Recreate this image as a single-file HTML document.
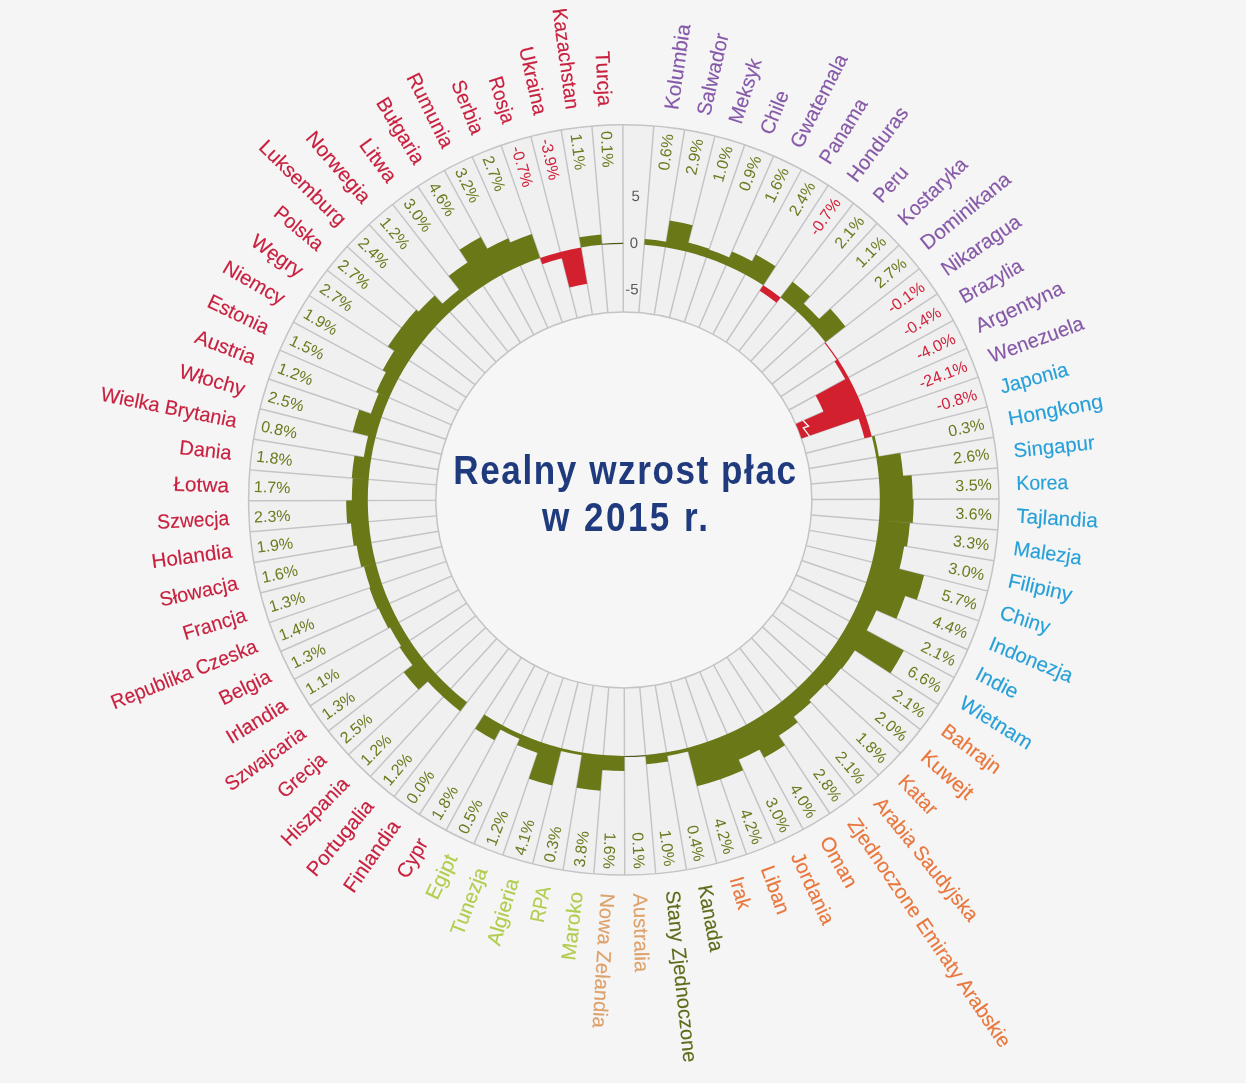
<!DOCTYPE html>
<html lang="pl">
<head>
<meta charset="utf-8">
<title>Realny wzrost płac w 2015 r.</title>
<style>html,body{margin:0;padding:0;background:#f5f5f5}svg{display:block}</style>
</head>
<body>
<svg width="1246" height="1083" viewBox="0 0 1246 1083" font-family="'Liberation Sans', sans-serif">
<rect width="1246" height="1083" fill="#f5f5f5"/>
<g transform="rotate(-0.145 623.8 499.9)">
<circle cx="623.8" cy="499.9" r="375.2" fill="#f0f0f0" stroke="#c2c4c5" stroke-width="1.5"/>
<circle cx="623.8" cy="499.9" r="188" fill="#f6f6f6" stroke="#c2c4c5" stroke-width="1.5"/>
<path d="M623.8 311.9L623.8 124.7M639.32 312.54L654.78 125.98M654.74 314.46L685.56 129.82M669.95 317.65L715.91 136.18M684.84 322.09L745.63 145.03M699.32 327.73L774.52 156.3M713.28 334.56L802.38 169.92M726.63 342.51L829.01 185.8M739.27 351.54L854.25 203.81M751.13 361.58L877.92 223.86M762.12 372.57L899.84 245.78M772.16 384.43L919.89 269.45M781.19 397.07L937.9 294.69M789.14 410.42L953.78 321.32M795.97 424.38L967.4 349.18M801.61 438.86L978.67 378.07M806.05 453.75L987.52 407.79M809.24 468.96L993.88 438.14M811.16 484.38L997.72 468.92M811.8 499.9L999 499.9M811.16 515.42L997.72 530.88M809.24 530.84L993.88 561.66M806.05 546.05L987.52 592.01M801.61 560.94L978.67 621.73M795.97 575.42L967.4 650.62M789.14 589.38L953.78 678.48M781.19 602.73L937.9 705.11M772.16 615.37L919.89 730.35M762.12 627.23L899.84 754.02M751.13 638.22L877.92 775.94M739.27 648.26L854.25 795.99M726.63 657.29L829.01 814M713.28 665.24L802.38 829.88M699.32 672.07L774.52 843.5M684.84 677.71L745.63 854.77M669.95 682.15L715.91 863.62M654.74 685.34L685.56 869.98M639.32 687.26L654.78 873.82M623.8 687.9L623.8 875.1M608.28 687.26L592.82 873.82M592.86 685.34L562.04 869.98M577.65 682.15L531.69 863.62M562.76 677.71L501.97 854.77M548.28 672.07L473.08 843.5M534.32 665.24L445.22 829.88M520.97 657.29L418.59 814M508.33 648.26L393.35 795.99M496.47 638.22L369.68 775.94M485.48 627.23L347.76 754.02M475.44 615.37L327.71 730.35M466.41 602.73L309.7 705.11M458.46 589.38L293.82 678.48M451.63 575.42L280.2 650.62M445.99 560.94L268.93 621.73M441.55 546.05L260.08 592.01M438.36 530.84L253.72 561.66M436.44 515.42L249.88 530.88M435.8 499.9L248.6 499.9M436.44 484.38L249.88 468.92M438.36 468.96L253.72 438.14M441.55 453.75L260.08 407.79M445.99 438.86L268.93 378.07M451.63 424.38L280.2 349.18M458.46 410.42L293.82 321.32M466.41 397.07L309.7 294.69M475.44 384.43L327.71 269.45M485.48 372.57L347.76 245.78M496.47 361.58L369.68 223.86M508.33 351.54L393.35 203.81M520.97 342.51L418.59 185.8M534.32 334.56L445.22 169.92M548.28 327.73L473.08 156.3M562.76 322.09L501.97 145.03M577.65 317.65L531.69 136.18M592.86 314.46L562.04 129.82M608.28 312.54L592.82 125.98" stroke="#c2c4c5" stroke-width="1.45" fill="none"/>
<path d="M579.96 237.19A266.34 266.34 0 0 1 601.81 234.47L602.66 244.77A256 256 0 0 0 581.66 247.39ZM510.77 242.22A281.38 281.38 0 0 1 532.44 233.77L540.68 257.77A256 256 0 0 0 520.97 265.46ZM487.64 248.3A286.08 286.08 0 0 1 508.88 237.92L520.97 265.46A256 256 0 0 0 501.96 274.75ZM460.13 249.39A299.24 299.24 0 0 1 481.38 236.73L501.96 274.75A256 256 0 0 0 483.78 285.59ZM449.24 275.63A284.2 284.2 0 0 1 468.36 261.98L483.78 285.59A256 256 0 0 0 466.56 297.88ZM442.78 303.26A267.28 267.28 0 0 1 459.63 288.98L466.56 297.88A256 256 0 0 0 450.42 311.55ZM418.86 311.24A278.56 278.56 0 0 1 435.14 294.96L450.42 311.55A256 256 0 0 0 435.45 326.52ZM401.75 327.07A281.38 281.38 0 0 1 416.78 309.33L435.45 326.52A256 256 0 0 0 421.78 342.66ZM388.24 346A281.38 281.38 0 0 1 401.75 327.07L421.78 342.66A256 256 0 0 0 409.49 359.88ZM382.95 369.56A273.86 273.86 0 0 1 394.53 350.11L409.49 359.88A256 256 0 0 0 398.65 378.06ZM376.45 391.4A270.1 270.1 0 0 1 386.25 371.35L398.65 378.06A256 256 0 0 0 389.36 397.07ZM371 413.11A267.28 267.28 0 0 1 379.03 392.53L389.36 397.07A256 256 0 0 0 381.67 416.78ZM352.85 431.29A279.5 279.5 0 0 1 359.44 409.15L381.67 416.78A256 256 0 0 0 375.63 437.06ZM363.87 456.53A263.52 263.52 0 0 1 368.34 435.21L375.63 437.06A256 256 0 0 0 371.29 457.76ZM351.81 477.36A272.92 272.92 0 0 1 354.6 454.98L371.29 457.76A256 256 0 0 0 368.67 478.76ZM351.82 499.9A271.98 271.98 0 0 1 352.75 477.44L368.67 478.76A256 256 0 0 0 367.8 499.9ZM347.13 522.83A277.62 277.62 0 0 1 346.18 499.9L367.8 499.9A256 256 0 0 0 368.67 521.04ZM353.68 544.98A273.86 273.86 0 0 1 350.88 522.52L368.67 521.04A256 256 0 0 0 371.29 542.04ZM361.05 566.44A271.04 271.04 0 0 1 356.46 544.51L371.29 542.04A256 256 0 0 0 375.63 562.74ZM370.11 586.99A268.22 268.22 0 0 1 363.79 565.74L375.63 562.74A256 256 0 0 0 381.67 583.02ZM377.31 608.02A269.16 269.16 0 0 1 369.22 587.3L381.67 583.02A256 256 0 0 0 389.36 602.73ZM387.91 627.56A268.22 268.22 0 0 1 378.17 607.64L389.36 602.73A256 256 0 0 0 398.65 621.74ZM400.83 645.57A266.34 266.34 0 0 1 389.56 626.66L398.65 621.74A256 256 0 0 0 409.49 639.92ZM412.14 664.64A268.22 268.22 0 0 1 399.26 646.6L409.49 639.92A256 256 0 0 0 421.78 657.14ZM418.17 689.2A279.5 279.5 0 0 1 403.24 671.57L421.78 657.14A256 256 0 0 0 435.45 673.28ZM442.78 696.54A267.28 267.28 0 0 1 427.16 680.92L435.45 673.28A256 256 0 0 0 450.42 688.25ZM459.63 710.82A267.28 267.28 0 0 1 442.78 696.54L450.42 688.25A256 256 0 0 0 466.56 701.92ZM493.9 739.93A272.92 272.92 0 0 1 474.53 728.38L483.78 714.21A256 256 0 0 0 501.96 725.05ZM519.08 738.64A260.7 260.7 0 0 1 499.72 729.18L501.96 725.05A256 256 0 0 0 520.97 734.34ZM537.01 752.7A267.28 267.28 0 0 1 516.43 744.67L520.97 734.34A256 256 0 0 0 540.68 742.03ZM551.49 785.43A294.54 294.54 0 0 1 528.16 778.48L540.68 742.03A256 256 0 0 0 560.96 748.07ZM581.2 755.19A258.82 258.82 0 0 1 560.26 750.8L560.96 748.07A256 256 0 0 0 581.66 752.41ZM599.71 790.62A291.72 291.72 0 0 1 575.78 787.64L581.66 752.41A256 256 0 0 0 602.66 755.03ZM623.8 770.94A271.04 271.04 0 0 1 601.42 770.01L602.66 755.03A256 256 0 0 0 623.8 755.9ZM667.48 761.68A265.4 265.4 0 0 1 645.72 764.39L644.94 755.03A256 256 0 0 0 665.94 752.41ZM687.57 751.71A259.76 259.76 0 0 1 666.56 756.12L665.94 752.41A256 256 0 0 0 686.64 748.07ZM719.74 779.37A295.48 295.48 0 0 1 696.34 786.34L686.64 748.07A256 256 0 0 0 706.92 742.03ZM742.49 770.49A295.48 295.48 0 0 1 719.74 779.37L706.92 742.03A256 256 0 0 0 726.63 734.34ZM759.06 749.85A284.2 284.2 0 0 1 737.96 760.16L726.63 734.34A256 256 0 0 0 745.64 725.05ZM784.38 745.69A293.6 293.6 0 0 1 763.54 758.11L745.64 725.05A256 256 0 0 0 763.82 714.21ZM797.2 722.69A282.32 282.32 0 0 1 778.21 736.25L763.82 714.21A256 256 0 0 0 781.04 701.92ZM810.55 702.77A275.74 275.74 0 0 1 793.16 717.5L781.04 701.92A256 256 0 0 0 797.18 688.25ZM824.59 684.74A272.92 272.92 0 0 1 808.64 700.69L797.18 688.25A256 256 0 0 0 812.15 673.28ZM840.66 668.69A274.8 274.8 0 0 1 825.98 686.02L812.15 673.28A256 256 0 0 0 825.82 657.14ZM854.64 650.72A275.74 275.74 0 0 1 841.4 669.26L825.82 657.14A256 256 0 0 0 838.11 639.92ZM903.51 651.27A318.04 318.04 0 0 1 890.05 673.85L838.11 639.92A256 256 0 0 0 848.95 621.74ZM876.32 610.66A275.74 275.74 0 0 1 866.31 631.14L848.95 621.74A256 256 0 0 0 858.24 602.73ZM905.05 596.45A297.36 297.36 0 0 1 896.11 619.35L858.24 602.73A256 256 0 0 0 865.93 583.02ZM923.91 575.9A309.58 309.58 0 0 1 916.61 600.42L865.93 583.02A256 256 0 0 0 871.97 562.74ZM904.12 546.68A284.2 284.2 0 0 1 899.3 569.67L871.97 562.74A256 256 0 0 0 876.31 542.04ZM909.84 523.6A287.02 287.02 0 0 1 906.91 547.14L876.31 542.04A256 256 0 0 0 878.93 521.04ZM913.64 499.9A289.84 289.84 0 0 1 912.65 523.83L878.93 521.04A256 256 0 0 0 879.8 499.9ZM911.71 476.04A288.9 288.9 0 0 1 912.7 499.9L879.8 499.9A256 256 0 0 0 878.93 478.76ZM900.42 453.74A280.44 280.44 0 0 1 903.28 476.74L878.93 478.76A256 256 0 0 0 876.31 457.76ZM874.7 436.36A258.82 258.82 0 0 1 879.09 457.3L876.31 457.76A256 256 0 0 0 871.97 437.06ZM830.82 309.33A281.38 281.38 0 0 1 845.85 327.07L825.82 342.66A256 256 0 0 0 812.15 326.52ZM804.19 303.95A266.34 266.34 0 0 1 819.75 319.51L812.15 326.52A256 256 0 0 0 797.18 311.55ZM793.16 282.3A275.74 275.74 0 0 1 810.55 297.03L797.18 311.55A256 256 0 0 0 781.04 297.88ZM756.38 254.91A278.56 278.56 0 0 1 776.16 266.7L763.82 285.59A256 256 0 0 0 745.64 274.75ZM732.68 251.69A271.04 271.04 0 0 1 752.8 261.53L745.64 274.75A256 256 0 0 0 726.63 265.46ZM709.67 249.77A264.46 264.46 0 0 1 730.03 257.71L726.63 265.46A256 256 0 0 0 706.92 257.77ZM688.95 242.62A265.4 265.4 0 0 1 709.98 248.88L706.92 257.77A256 256 0 0 0 686.64 251.73ZM670.42 220.5A283.26 283.26 0 0 1 693.34 225.31L686.64 251.73A256 256 0 0 0 665.94 247.39ZM645.41 239.15A261.64 261.64 0 0 1 666.86 241.83L665.94 247.39A256 256 0 0 0 644.94 244.77Z" fill="#6b7818"/>
<path d="M560.96 251.73A256 256 0 0 1 581.66 247.39L587.7 283.55A219.34 219.34 0 0 0 569.96 287.27ZM540.68 257.77A256 256 0 0 1 560.96 251.73L562.57 258.11A249.42 249.42 0 0 0 542.81 263.99ZM865.93 416.78A256 256 0 0 1 871.97 437.06L864.68 438.9A248.48 248.48 0 0 0 858.82 419.22ZM858.24 397.07A256 256 0 0 1 865.93 416.78L801.61 438.86A188 188 0 0 0 795.97 424.38ZM848.95 378.06A256 256 0 0 1 858.24 397.07L823.8 412.17A218.4 218.4 0 0 0 815.88 395.95ZM838.11 359.88A256 256 0 0 1 848.95 378.06L845.64 379.85A252.24 252.24 0 0 0 834.97 361.94ZM825.82 342.66A256 256 0 0 1 838.11 359.88L837.11 360.54A254.8 254.8 0 0 0 824.87 343.4ZM763.82 285.59A256 256 0 0 1 781.04 297.88L777 303.07A249.42 249.42 0 0 0 760.22 291.09Z" fill="#d3202f"/>
<path d="M602.56 243.58A257.2 257.2 0 0 1 623.8 242.7L623.8 243.9A256 256 0 0 0 602.66 244.77ZM645.04 756.22A257.2 257.2 0 0 1 623.8 757.1L623.8 755.9A256 256 0 0 0 644.94 755.03Z" fill="#50581c"/>
<polyline points="802.9,420.53 808.73,426.68 803.49,428.39 809.78,436.77" fill="none" stroke="#f7f2f2" stroke-width="1.4" stroke-linejoin="miter"/>
<text x="636.42" y="195.66" font-size="15" fill="#58595b" text-anchor="middle" dy="0.36em">5</text>
<text x="634.48" y="242.62" font-size="15" fill="#58595b" text-anchor="middle" dy="0.36em">0</text>
<text x="632.54" y="288.78" font-size="15" fill="#58595b" text-anchor="middle" dy="0.36em">-5</text>
<g transform="translate(-0.6 0.3)">
<text transform="translate(607.5 105.74) rotate(87.23)" font-size="20.3" fill="#c8203f" stroke="#c8203f" stroke-width="0.15" text-anchor="end" dy="0.37em" textLength="55.04" lengthAdjust="spacingAndGlyphs">Turcja</text>
<text transform="translate(608.53 130.72) rotate(87.63)" font-size="16" fill="#6b7a1e" text-anchor="start" dy="0.38em">0.1%</text>
<text transform="translate(575 108.43) rotate(82.49)" font-size="20.3" fill="#c8203f" stroke="#c8203f" stroke-width="0.15" text-anchor="end" dy="0.37em" textLength="101.54" lengthAdjust="spacingAndGlyphs">Kazachstan</text>
<text transform="translate(578.1 133.24) rotate(82.89)" font-size="16" fill="#6b7a1e" text-anchor="start" dy="0.38em">1.1%</text>
<text transform="translate(542.84 113.8) rotate(77.76)" font-size="20.3" fill="#c8203f" stroke="#c8203f" stroke-width="0.15" text-anchor="end" dy="0.37em" textLength="69.03" lengthAdjust="spacingAndGlyphs">Ukraina</text>
<text transform="translate(547.97 138.26) rotate(78.16)" font-size="16" fill="#d0213a" text-anchor="start" dy="0.38em">-3.9%</text>
<text transform="translate(511.23 121.8) rotate(73.02)" font-size="20.3" fill="#c8203f" stroke="#c8203f" stroke-width="0.15" text-anchor="end" dy="0.37em" textLength="47.69" lengthAdjust="spacingAndGlyphs">Rosja</text>
<text transform="translate(518.37 145.76) rotate(73.42)" font-size="16" fill="#d0213a" text-anchor="start" dy="0.38em">-0.7%</text>
<text transform="translate(480.4 132.39) rotate(68.28)" font-size="20.3" fill="#c8203f" stroke="#c8203f" stroke-width="0.15" text-anchor="end" dy="0.37em" textLength="56.29" lengthAdjust="spacingAndGlyphs">Serbia</text>
<text transform="translate(489.48 155.68) rotate(68.68)" font-size="16" fill="#6b7a1e" text-anchor="start" dy="0.38em">2.7%</text>
<text transform="translate(450.54 145.48) rotate(63.55)" font-size="20.3" fill="#c8203f" stroke="#c8203f" stroke-width="0.15" text-anchor="end" dy="0.37em" textLength="80.89" lengthAdjust="spacingAndGlyphs">Rumunia</text>
<text transform="translate(461.52 167.94) rotate(63.95)" font-size="16" fill="#6b7a1e" text-anchor="start" dy="0.38em">3.2%</text>
<text transform="translate(421.86 161) rotate(58.81)" font-size="20.3" fill="#c8203f" stroke="#c8203f" stroke-width="0.15" text-anchor="end" dy="0.37em" textLength="73.94" lengthAdjust="spacingAndGlyphs">Bułgaria</text>
<text transform="translate(434.66 182.48) rotate(59.21)" font-size="16" fill="#6b7a1e" text-anchor="start" dy="0.38em">4.6%</text>
<text transform="translate(394.57 178.84) rotate(54.07)" font-size="20.3" fill="#c8203f" stroke="#c8203f" stroke-width="0.15" text-anchor="end" dy="0.37em" textLength="48.71" lengthAdjust="spacingAndGlyphs">Litwa</text>
<text transform="translate(409.09 199.18) rotate(54.47)" font-size="16" fill="#6b7a1e" text-anchor="start" dy="0.38em">3.0%</text>
<text transform="translate(368.83 198.86) rotate(49.34)" font-size="20.3" fill="#c8203f" stroke="#c8203f" stroke-width="0.15" text-anchor="end" dy="0.37em" textLength="87.39" lengthAdjust="spacingAndGlyphs">Norwegia</text>
<text transform="translate(384.99 217.94) rotate(49.74)" font-size="16" fill="#6b7a1e" text-anchor="start" dy="0.38em">1.2%</text>
<text transform="translate(344.85 220.95) rotate(44.6)" font-size="20.3" fill="#c8203f" stroke="#c8203f" stroke-width="0.15" text-anchor="end" dy="0.37em" textLength="112.95" lengthAdjust="spacingAndGlyphs">Luksemburg</text>
<text transform="translate(362.52 238.62) rotate(45)" font-size="16" fill="#6b7a1e" text-anchor="start" dy="0.38em">2.4%</text>
<text transform="translate(322.76 244.93) rotate(39.86)" font-size="20.3" fill="#c8203f" stroke="#c8203f" stroke-width="0.15" text-anchor="end" dy="0.37em" textLength="57.54" lengthAdjust="spacingAndGlyphs">Polska</text>
<text transform="translate(341.84 261.09) rotate(40.26)" font-size="16" fill="#6b7a1e" text-anchor="start" dy="0.38em">2.7%</text>
<text transform="translate(302.74 270.67) rotate(35.13)" font-size="20.3" fill="#c8203f" stroke="#c8203f" stroke-width="0.15" text-anchor="end" dy="0.37em" textLength="58.41" lengthAdjust="spacingAndGlyphs">Węgry</text>
<text transform="translate(323.08 285.19) rotate(35.53)" font-size="16" fill="#6b7a1e" text-anchor="start" dy="0.38em">2.7%</text>
<text transform="translate(284.9 297.96) rotate(30.39)" font-size="20.3" fill="#c8203f" stroke="#c8203f" stroke-width="0.15" text-anchor="end" dy="0.37em" textLength="67.95" lengthAdjust="spacingAndGlyphs">Niemcy</text>
<text transform="translate(306.38 310.76) rotate(30.79)" font-size="16" fill="#6b7a1e" text-anchor="start" dy="0.38em">1.9%</text>
<text transform="translate(269.38 326.64) rotate(25.65)" font-size="20.3" fill="#c8203f" stroke="#c8203f" stroke-width="0.15" text-anchor="end" dy="0.37em" textLength="65.64" lengthAdjust="spacingAndGlyphs">Estonia</text>
<text transform="translate(291.84 337.62) rotate(26.05)" font-size="16" fill="#6b7a1e" text-anchor="start" dy="0.38em">1.5%</text>
<text transform="translate(256.29 356.5) rotate(20.92)" font-size="20.3" fill="#c8203f" stroke="#c8203f" stroke-width="0.15" text-anchor="end" dy="0.37em" textLength="63.35" lengthAdjust="spacingAndGlyphs">Austria</text>
<text transform="translate(279.58 365.58) rotate(21.32)" font-size="16" fill="#6b7a1e" text-anchor="start" dy="0.38em">1.2%</text>
<text transform="translate(245.7 387.33) rotate(16.18)" font-size="20.3" fill="#c8203f" stroke="#c8203f" stroke-width="0.15" text-anchor="end" dy="0.37em" textLength="67.28" lengthAdjust="spacingAndGlyphs">Włochy</text>
<text transform="translate(269.66 394.47) rotate(16.58)" font-size="16" fill="#6b7a1e" text-anchor="start" dy="0.38em">2.5%</text>
<text transform="translate(237.7 418.94) rotate(11.44)" font-size="20.3" fill="#c8203f" stroke="#c8203f" stroke-width="0.15" text-anchor="end" dy="0.37em" textLength="138.33" lengthAdjust="spacingAndGlyphs">Wielka Brytania</text>
<text transform="translate(262.16 424.07) rotate(11.84)" font-size="16" fill="#6b7a1e" text-anchor="start" dy="0.38em">0.8%</text>
<text transform="translate(232.33 451.1) rotate(6.71)" font-size="20.3" fill="#c8203f" stroke="#c8203f" stroke-width="0.15" text-anchor="end" dy="0.37em" textLength="52.25" lengthAdjust="spacingAndGlyphs">Dania</text>
<text transform="translate(257.14 454.2) rotate(7.11)" font-size="16" fill="#6b7a1e" text-anchor="start" dy="0.38em">1.8%</text>
<text transform="translate(229.64 483.6) rotate(1.97)" font-size="20.3" fill="#c8203f" stroke="#c8203f" stroke-width="0.15" text-anchor="end" dy="0.37em" textLength="55.6" lengthAdjust="spacingAndGlyphs">Łotwa</text>
<text transform="translate(254.62 484.63) rotate(2.37)" font-size="16" fill="#6b7a1e" text-anchor="start" dy="0.38em">1.7%</text>
<text transform="translate(229.64 516.2) rotate(-2.77)" font-size="20.3" fill="#c8203f" stroke="#c8203f" stroke-width="0.15" text-anchor="end" dy="0.37em" textLength="71.95" lengthAdjust="spacingAndGlyphs">Szwecja</text>
<text transform="translate(254.62 515.17) rotate(-2.37)" font-size="16" fill="#6b7a1e" text-anchor="start" dy="0.38em">2.3%</text>
<text transform="translate(232.33 548.7) rotate(-7.51)" font-size="20.3" fill="#c8203f" stroke="#c8203f" stroke-width="0.15" text-anchor="end" dy="0.37em" textLength="81.09" lengthAdjust="spacingAndGlyphs">Holandia</text>
<text transform="translate(257.14 545.6) rotate(-7.11)" font-size="16" fill="#6b7a1e" text-anchor="start" dy="0.38em">1.9%</text>
<text transform="translate(237.7 580.86) rotate(-12.24)" font-size="20.3" fill="#c8203f" stroke="#c8203f" stroke-width="0.15" text-anchor="end" dy="0.37em" textLength="79.47" lengthAdjust="spacingAndGlyphs">Słowacja</text>
<text transform="translate(262.16 575.73) rotate(-11.84)" font-size="16" fill="#6b7a1e" text-anchor="start" dy="0.38em">1.6%</text>
<text transform="translate(245.7 612.47) rotate(-16.98)" font-size="20.3" fill="#c8203f" stroke="#c8203f" stroke-width="0.15" text-anchor="end" dy="0.37em" textLength="65.32" lengthAdjust="spacingAndGlyphs">Francja</text>
<text transform="translate(269.66 605.33) rotate(-16.58)" font-size="16" fill="#6b7a1e" text-anchor="start" dy="0.38em">1.3%</text>
<text transform="translate(256.29 643.3) rotate(-21.72)" font-size="20.3" fill="#c8203f" stroke="#c8203f" stroke-width="0.15" text-anchor="end" dy="0.37em" textLength="155.89" lengthAdjust="spacingAndGlyphs">Republika Czeska</text>
<text transform="translate(279.58 634.22) rotate(-21.32)" font-size="16" fill="#6b7a1e" text-anchor="start" dy="0.38em">1.4%</text>
<text transform="translate(269.38 673.16) rotate(-26.45)" font-size="20.3" fill="#c8203f" stroke="#c8203f" stroke-width="0.15" text-anchor="end" dy="0.37em" textLength="55.17" lengthAdjust="spacingAndGlyphs">Belgia</text>
<text transform="translate(291.84 662.18) rotate(-26.05)" font-size="16" fill="#6b7a1e" text-anchor="start" dy="0.38em">1.3%</text>
<text transform="translate(284.9 701.84) rotate(-31.19)" font-size="20.3" fill="#c8203f" stroke="#c8203f" stroke-width="0.15" text-anchor="end" dy="0.37em" textLength="67.37" lengthAdjust="spacingAndGlyphs">Irlandia</text>
<text transform="translate(306.38 689.04) rotate(-30.79)" font-size="16" fill="#6b7a1e" text-anchor="start" dy="0.38em">1.1%</text>
<text transform="translate(302.74 729.13) rotate(-35.93)" font-size="20.3" fill="#c8203f" stroke="#c8203f" stroke-width="0.15" text-anchor="end" dy="0.37em" textLength="94.07" lengthAdjust="spacingAndGlyphs">Szwajcaria</text>
<text transform="translate(323.08 714.61) rotate(-35.53)" font-size="16" fill="#6b7a1e" text-anchor="start" dy="0.38em">1.3%</text>
<text transform="translate(322.76 754.87) rotate(-40.66)" font-size="20.3" fill="#c8203f" stroke="#c8203f" stroke-width="0.15" text-anchor="end" dy="0.37em" textLength="57.18" lengthAdjust="spacingAndGlyphs">Grecja</text>
<text transform="translate(341.84 738.71) rotate(-40.26)" font-size="16" fill="#6b7a1e" text-anchor="start" dy="0.38em">2.5%</text>
<text transform="translate(344.85 778.85) rotate(-45.4)" font-size="20.3" fill="#c8203f" stroke="#c8203f" stroke-width="0.15" text-anchor="end" dy="0.37em" textLength="87.09" lengthAdjust="spacingAndGlyphs">Hiszpania</text>
<text transform="translate(362.52 761.18) rotate(-45)" font-size="16" fill="#6b7a1e" text-anchor="start" dy="0.38em">1.2%</text>
<text transform="translate(368.83 800.94) rotate(-50.14)" font-size="20.3" fill="#c8203f" stroke="#c8203f" stroke-width="0.15" text-anchor="end" dy="0.37em" textLength="92.51" lengthAdjust="spacingAndGlyphs">Portugalia</text>
<text transform="translate(384.99 781.86) rotate(-49.74)" font-size="16" fill="#6b7a1e" text-anchor="start" dy="0.38em">1.2%</text>
<text transform="translate(394.57 820.96) rotate(-54.87)" font-size="20.3" fill="#c8203f" stroke="#c8203f" stroke-width="0.15" text-anchor="end" dy="0.37em" textLength="82.71" lengthAdjust="spacingAndGlyphs">Finlandia</text>
<text transform="translate(409.09 800.62) rotate(-54.47)" font-size="16" fill="#6b7a1e" text-anchor="start" dy="0.38em">0.0%</text>
<text transform="translate(421.86 838.8) rotate(-59.61)" font-size="20.3" fill="#c8203f" stroke="#c8203f" stroke-width="0.15" text-anchor="end" dy="0.37em" textLength="42.06" lengthAdjust="spacingAndGlyphs">Cypr</text>
<text transform="translate(434.66 817.32) rotate(-59.21)" font-size="16" fill="#6b7a1e" text-anchor="start" dy="0.38em">1.8%</text>
<text transform="translate(450.54 854.32) rotate(-64.35)" font-size="20.3" fill="#b1cd4e" stroke="#b1cd4e" stroke-width="0.15" text-anchor="end" dy="0.37em" textLength="47.2" lengthAdjust="spacingAndGlyphs">Egipt</text>
<text transform="translate(461.52 831.86) rotate(-63.95)" font-size="16" fill="#6b7a1e" text-anchor="start" dy="0.38em">0.5%</text>
<text transform="translate(480.4 867.41) rotate(-69.08)" font-size="20.3" fill="#b1cd4e" stroke="#b1cd4e" stroke-width="0.15" text-anchor="end" dy="0.37em" textLength="70.35" lengthAdjust="spacingAndGlyphs">Tunezja</text>
<text transform="translate(489.48 844.12) rotate(-68.68)" font-size="16" fill="#6b7a1e" text-anchor="start" dy="0.38em">1.2%</text>
<text transform="translate(511.23 878) rotate(-73.82)" font-size="20.3" fill="#b1cd4e" stroke="#b1cd4e" stroke-width="0.15" text-anchor="end" dy="0.37em" textLength="68.8" lengthAdjust="spacingAndGlyphs">Algieria</text>
<text transform="translate(518.37 854.04) rotate(-73.42)" font-size="16" fill="#6b7a1e" text-anchor="start" dy="0.38em">4.1%</text>
<text transform="translate(542.84 886) rotate(-78.56)" font-size="20.3" fill="#b1cd4e" stroke="#b1cd4e" stroke-width="0.15" text-anchor="end" dy="0.37em" textLength="36.33" lengthAdjust="spacingAndGlyphs">RPA</text>
<text transform="translate(547.97 861.54) rotate(-78.16)" font-size="16" fill="#6b7a1e" text-anchor="start" dy="0.38em">0.3%</text>
<text transform="translate(575 891.37) rotate(-83.29)" font-size="20.3" fill="#b1cd4e" stroke="#b1cd4e" stroke-width="0.15" text-anchor="end" dy="0.37em" textLength="68.69" lengthAdjust="spacingAndGlyphs">Maroko</text>
<text transform="translate(578.1 866.56) rotate(-82.89)" font-size="16" fill="#6b7a1e" text-anchor="start" dy="0.38em">3.8%</text>
<text transform="translate(607.54 893.06) rotate(-266.33)" font-size="20.3" fill="#dda16a" stroke="#dda16a" stroke-width="0.15" text-anchor="start" dy="0.35em" textLength="134.87" lengthAdjust="spacingAndGlyphs">Nowa Zelandia</text>
<text transform="translate(608.56 868.48) rotate(-267.63)" font-size="16" fill="#6b7a1e" text-anchor="end" dy="0.35em">1.6%</text>
<text transform="translate(640.06 893.06) rotate(-271.07)" font-size="20.3" fill="#dda16a" stroke="#dda16a" stroke-width="0.15" text-anchor="start" dy="0.35em" textLength="78.86" lengthAdjust="spacingAndGlyphs">Australia</text>
<text transform="translate(639.04 868.48) rotate(-272.37)" font-size="16" fill="#6b7a1e" text-anchor="end" dy="0.35em">0.1%</text>
<text transform="translate(672.47 890.38) rotate(-275.81)" font-size="20.3" fill="#5d6c1a" stroke="#5d6c1a" stroke-width="0.15" text-anchor="start" dy="0.35em" textLength="172.58" lengthAdjust="spacingAndGlyphs">Stany Zjednoczone</text>
<text transform="translate(669.43 865.97) rotate(-277.11)" font-size="16" fill="#6b7a1e" text-anchor="end" dy="0.35em">1.0%</text>
<text transform="translate(704.55 885.03) rotate(-280.54)" font-size="20.3" fill="#5d6c1a" stroke="#5d6c1a" stroke-width="0.15" text-anchor="start" dy="0.35em" textLength="67.11" lengthAdjust="spacingAndGlyphs">Kanada</text>
<text transform="translate(699.5 860.95) rotate(-281.84)" font-size="16" fill="#6b7a1e" text-anchor="end" dy="0.35em">0.4%</text>
<text transform="translate(736.08 877.04) rotate(-285.28)" font-size="20.3" fill="#e9763c" stroke="#e9763c" stroke-width="0.15" text-anchor="start" dy="0.35em" textLength="32.77" lengthAdjust="spacingAndGlyphs">Irak</text>
<text transform="translate(729.06 853.46) rotate(-286.58)" font-size="16" fill="#6b7a1e" text-anchor="end" dy="0.35em">4.2%</text>
<text transform="translate(766.84 866.48) rotate(-290.02)" font-size="20.3" fill="#e9763c" stroke="#e9763c" stroke-width="0.15" text-anchor="start" dy="0.35em" textLength="49.94" lengthAdjust="spacingAndGlyphs">Liban</text>
<text transform="translate(757.9 843.56) rotate(-291.32)" font-size="16" fill="#6b7a1e" text-anchor="end" dy="0.35em">4.2%</text>
<text transform="translate(796.62 853.42) rotate(-294.75)" font-size="20.3" fill="#e9763c" stroke="#e9763c" stroke-width="0.15" text-anchor="start" dy="0.35em" textLength="76.96" lengthAdjust="spacingAndGlyphs">Jordania</text>
<text transform="translate(785.82 831.32) rotate(-296.05)" font-size="16" fill="#6b7a1e" text-anchor="end" dy="0.35em">3.0%</text>
<text transform="translate(825.23 837.94) rotate(-299.49)" font-size="20.3" fill="#e9763c" stroke="#e9763c" stroke-width="0.15" text-anchor="start" dy="0.35em" textLength="55.3" lengthAdjust="spacingAndGlyphs">Oman</text>
<text transform="translate(812.63 816.81) rotate(-300.79)" font-size="16" fill="#6b7a1e" text-anchor="end" dy="0.35em">4.0%</text>
<text transform="translate(852.45 820.15) rotate(-304.23)" font-size="20.3" fill="#e9763c" stroke="#e9763c" stroke-width="0.15" text-anchor="start" dy="0.35em" textLength="272.83" lengthAdjust="spacingAndGlyphs">Zjednoczone Emiraty Arabskie</text>
<text transform="translate(838.16 800.13) rotate(-305.53)" font-size="16" fill="#6b7a1e" text-anchor="end" dy="0.35em">2.8%</text>
<text transform="translate(878.12 800.17) rotate(-308.96)" font-size="20.3" fill="#e9763c" stroke="#e9763c" stroke-width="0.15" text-anchor="start" dy="0.35em" textLength="152.69" lengthAdjust="spacingAndGlyphs">Arabia Saudyjska</text>
<text transform="translate(862.22 781.4) rotate(-310.26)" font-size="16" fill="#6b7a1e" text-anchor="end" dy="0.35em">2.1%</text>
<text transform="translate(902.05 778.15) rotate(-313.7)" font-size="20.3" fill="#e9763c" stroke="#e9763c" stroke-width="0.15" text-anchor="start" dy="0.35em" textLength="46.74" lengthAdjust="spacingAndGlyphs">Katar</text>
<text transform="translate(884.65 760.75) rotate(-315)" font-size="16" fill="#6b7a1e" text-anchor="end" dy="0.35em">1.8%</text>
<text transform="translate(924.07 754.22) rotate(-318.44)" font-size="20.3" fill="#e9763c" stroke="#e9763c" stroke-width="0.15" text-anchor="start" dy="0.35em" textLength="62.73" lengthAdjust="spacingAndGlyphs">Kuwejt</text>
<text transform="translate(905.3 738.32) rotate(-319.74)" font-size="16" fill="#6b7a1e" text-anchor="end" dy="0.35em">2.0%</text>
<text transform="translate(944.05 728.55) rotate(-323.17)" font-size="20.3" fill="#e9763c" stroke="#e9763c" stroke-width="0.15" text-anchor="start" dy="0.35em" textLength="68.82" lengthAdjust="spacingAndGlyphs">Bahrajn</text>
<text transform="translate(924.03 714.26) rotate(-324.47)" font-size="16" fill="#6b7a1e" text-anchor="end" dy="0.35em">2.1%</text>
<text transform="translate(961.84 701.33) rotate(-327.91)" font-size="20.3" fill="#27a0d8" stroke="#27a0d8" stroke-width="0.15" text-anchor="start" dy="0.35em" textLength="81.71" lengthAdjust="spacingAndGlyphs">Wietnam</text>
<text transform="translate(940.71 688.73) rotate(-329.21)" font-size="16" fill="#6b7a1e" text-anchor="end" dy="0.35em">6.6%</text>
<text transform="translate(977.32 672.72) rotate(-332.65)" font-size="20.3" fill="#27a0d8" stroke="#27a0d8" stroke-width="0.15" text-anchor="start" dy="0.35em" textLength="45.21" lengthAdjust="spacingAndGlyphs">Indie</text>
<text transform="translate(955.22 661.92) rotate(-333.95)" font-size="16" fill="#6b7a1e" text-anchor="end" dy="0.35em">2.1%</text>
<text transform="translate(990.38 642.94) rotate(-337.38)" font-size="20.3" fill="#27a0d8" stroke="#27a0d8" stroke-width="0.15" text-anchor="start" dy="0.35em" textLength="88.91" lengthAdjust="spacingAndGlyphs">Indonezja</text>
<text transform="translate(967.46 634) rotate(-338.68)" font-size="16" fill="#6b7a1e" text-anchor="end" dy="0.35em">4.4%</text>
<text transform="translate(1000.94 612.18) rotate(-342.12)" font-size="20.3" fill="#27a0d8" stroke="#27a0d8" stroke-width="0.15" text-anchor="start" dy="0.35em" textLength="51.73" lengthAdjust="spacingAndGlyphs">Chiny</text>
<text transform="translate(977.36 605.16) rotate(-343.42)" font-size="16" fill="#6b7a1e" text-anchor="end" dy="0.35em">5.7%</text>
<text transform="translate(1008.93 580.65) rotate(-346.86)" font-size="20.3" fill="#27a0d8" stroke="#27a0d8" stroke-width="0.15" text-anchor="start" dy="0.35em" textLength="65.23" lengthAdjust="spacingAndGlyphs">Filipiny</text>
<text transform="translate(984.85 575.6) rotate(-348.16)" font-size="16" fill="#6b7a1e" text-anchor="end" dy="0.35em">3.0%</text>
<text transform="translate(1014.28 548.57) rotate(-351.59)" font-size="20.3" fill="#27a0d8" stroke="#27a0d8" stroke-width="0.15" text-anchor="start" dy="0.35em" textLength="68.6" lengthAdjust="spacingAndGlyphs">Malezja</text>
<text transform="translate(989.87 545.53) rotate(-352.89)" font-size="16" fill="#6b7a1e" text-anchor="end" dy="0.35em">3.3%</text>
<text transform="translate(1016.96 516.16) rotate(-356.33)" font-size="20.3" fill="#27a0d8" stroke="#27a0d8" stroke-width="0.15" text-anchor="start" dy="0.35em" textLength="81.54" lengthAdjust="spacingAndGlyphs">Tajlandia</text>
<text transform="translate(992.38 515.14) rotate(-357.63)" font-size="16" fill="#6b7a1e" text-anchor="end" dy="0.35em">3.6%</text>
<text transform="translate(1016.96 483.64) rotate(-361.07)" font-size="20.3" fill="#27a0d8" stroke="#27a0d8" stroke-width="0.15" text-anchor="start" dy="0.35em" textLength="51.86" lengthAdjust="spacingAndGlyphs">Korea</text>
<text transform="translate(992.38 484.66) rotate(-362.37)" font-size="16" fill="#6b7a1e" text-anchor="end" dy="0.35em">3.5%</text>
<text transform="translate(1014.28 451.23) rotate(-365.81)" font-size="20.3" fill="#27a0d8" stroke="#27a0d8" stroke-width="0.15" text-anchor="start" dy="0.35em" textLength="81.43" lengthAdjust="spacingAndGlyphs">Singapur</text>
<text transform="translate(989.87 454.27) rotate(-367.11)" font-size="16" fill="#6b7a1e" text-anchor="end" dy="0.35em">2.6%</text>
<text transform="translate(1008.93 419.15) rotate(-370.54)" font-size="20.3" fill="#27a0d8" stroke="#27a0d8" stroke-width="0.15" text-anchor="start" dy="0.35em" textLength="96.06" lengthAdjust="spacingAndGlyphs">Hongkong</text>
<text transform="translate(984.85 424.2) rotate(-371.84)" font-size="16" fill="#6b7a1e" text-anchor="end" dy="0.35em">0.3%</text>
<text transform="translate(1000.94 387.62) rotate(-375.28)" font-size="20.3" fill="#27a0d8" stroke="#27a0d8" stroke-width="0.15" text-anchor="start" dy="0.35em" textLength="70.01" lengthAdjust="spacingAndGlyphs">Japonia</text>
<text transform="translate(977.36 394.64) rotate(-376.58)" font-size="16" fill="#d0213a" text-anchor="end" dy="0.35em">-0.8%</text>
<text transform="translate(990.38 356.86) rotate(-380.02)" font-size="20.3" fill="#8659a8" stroke="#8659a8" stroke-width="0.15" text-anchor="start" dy="0.35em" textLength="99.38" lengthAdjust="spacingAndGlyphs">Wenezuela</text>
<text transform="translate(967.46 365.8) rotate(-381.32)" font-size="16" fill="#d0213a" text-anchor="end" dy="0.35em">-24.1%</text>
<text transform="translate(977.32 327.08) rotate(-384.75)" font-size="20.3" fill="#8659a8" stroke="#8659a8" stroke-width="0.15" text-anchor="start" dy="0.35em" textLength="94.89" lengthAdjust="spacingAndGlyphs">Argentyna</text>
<text transform="translate(955.22 337.88) rotate(-386.05)" font-size="16" fill="#d0213a" text-anchor="end" dy="0.35em">-4.0%</text>
<text transform="translate(961.84 298.47) rotate(-389.49)" font-size="20.3" fill="#8659a8" stroke="#8659a8" stroke-width="0.15" text-anchor="start" dy="0.35em" textLength="69.16" lengthAdjust="spacingAndGlyphs">Brazylia</text>
<text transform="translate(940.71 311.07) rotate(-390.79)" font-size="16" fill="#d0213a" text-anchor="end" dy="0.35em">-0.4%</text>
<text transform="translate(944.05 271.25) rotate(-394.23)" font-size="20.3" fill="#8659a8" stroke="#8659a8" stroke-width="0.15" text-anchor="start" dy="0.35em" textLength="91.67" lengthAdjust="spacingAndGlyphs">Nikaragua</text>
<text transform="translate(924.03 285.54) rotate(-395.53)" font-size="16" fill="#d0213a" text-anchor="end" dy="0.35em">-0.1%</text>
<text transform="translate(924.07 245.58) rotate(-398.96)" font-size="20.3" fill="#8659a8" stroke="#8659a8" stroke-width="0.15" text-anchor="start" dy="0.35em" textLength="109.3" lengthAdjust="spacingAndGlyphs">Dominikana</text>
<text transform="translate(905.3 261.48) rotate(-400.26)" font-size="16" fill="#6b7a1e" text-anchor="end" dy="0.35em">2.7%</text>
<text transform="translate(902.05 221.65) rotate(-403.7)" font-size="20.3" fill="#8659a8" stroke="#8659a8" stroke-width="0.15" text-anchor="start" dy="0.35em" textLength="87.46" lengthAdjust="spacingAndGlyphs">Kostaryka</text>
<text transform="translate(884.65 239.05) rotate(-405)" font-size="16" fill="#6b7a1e" text-anchor="end" dy="0.35em">1.1%</text>
<text transform="translate(878.12 199.63) rotate(-408.44)" font-size="20.3" fill="#8659a8" stroke="#8659a8" stroke-width="0.15" text-anchor="start" dy="0.35em" textLength="41.28" lengthAdjust="spacingAndGlyphs">Peru</text>
<text transform="translate(862.22 218.4) rotate(-409.74)" font-size="16" fill="#6b7a1e" text-anchor="end" dy="0.35em">2.1%</text>
<text transform="translate(852.45 179.65) rotate(-413.17)" font-size="20.3" fill="#8659a8" stroke="#8659a8" stroke-width="0.15" text-anchor="start" dy="0.35em" textLength="88.04" lengthAdjust="spacingAndGlyphs">Honduras</text>
<text transform="translate(838.16 199.67) rotate(-414.47)" font-size="16" fill="#d0213a" text-anchor="end" dy="0.35em">-0.7%</text>
<text transform="translate(825.23 161.86) rotate(-417.91)" font-size="20.3" fill="#8659a8" stroke="#8659a8" stroke-width="0.15" text-anchor="start" dy="0.35em" textLength="72.73" lengthAdjust="spacingAndGlyphs">Panama</text>
<text transform="translate(812.63 182.99) rotate(-419.21)" font-size="16" fill="#6b7a1e" text-anchor="end" dy="0.35em">2.4%</text>
<text transform="translate(796.62 146.38) rotate(-422.65)" font-size="20.3" fill="#8659a8" stroke="#8659a8" stroke-width="0.15" text-anchor="start" dy="0.35em" textLength="102.17" lengthAdjust="spacingAndGlyphs">Gwatemala</text>
<text transform="translate(785.82 168.48) rotate(-423.95)" font-size="16" fill="#6b7a1e" text-anchor="end" dy="0.35em">1.6%</text>
<text transform="translate(766.84 133.32) rotate(-427.38)" font-size="20.3" fill="#8659a8" stroke="#8659a8" stroke-width="0.15" text-anchor="start" dy="0.35em" textLength="45.49" lengthAdjust="spacingAndGlyphs">Chile</text>
<text transform="translate(757.9 156.24) rotate(-428.68)" font-size="16" fill="#6b7a1e" text-anchor="end" dy="0.35em">0.9%</text>
<text transform="translate(736.08 122.76) rotate(-432.12)" font-size="20.3" fill="#8659a8" stroke="#8659a8" stroke-width="0.15" text-anchor="start" dy="0.35em" textLength="67.18" lengthAdjust="spacingAndGlyphs">Meksyk</text>
<text transform="translate(729.06 146.34) rotate(-433.42)" font-size="16" fill="#6b7a1e" text-anchor="end" dy="0.35em">1.0%</text>
<text transform="translate(704.55 114.77) rotate(-436.86)" font-size="20.3" fill="#8659a8" stroke="#8659a8" stroke-width="0.15" text-anchor="start" dy="0.35em" textLength="83.57" lengthAdjust="spacingAndGlyphs">Salwador</text>
<text transform="translate(699.5 138.85) rotate(-438.16)" font-size="16" fill="#6b7a1e" text-anchor="end" dy="0.35em">2.9%</text>
<text transform="translate(672.47 109.42) rotate(-441.59)" font-size="20.3" fill="#8659a8" stroke="#8659a8" stroke-width="0.15" text-anchor="start" dy="0.35em" textLength="86.34" lengthAdjust="spacingAndGlyphs">Kolumbia</text>
<text transform="translate(669.43 133.83) rotate(-442.89)" font-size="16" fill="#6b7a1e" text-anchor="end" dy="0.35em">0.6%</text>
</g>
</g>
<text transform="translate(625.5 483.8) scale(0.87 1)" font-size="40.3" font-weight="bold" fill="#1f3a7d" text-anchor="middle" letter-spacing="1.83">Realny wzrost płac</text>
<text transform="translate(626.2 530.8) scale(0.87 1)" font-size="40.3" font-weight="bold" fill="#1f3a7d" text-anchor="middle" letter-spacing="2.83">w 2015 r.</text>
</svg>
</body>
</html>
